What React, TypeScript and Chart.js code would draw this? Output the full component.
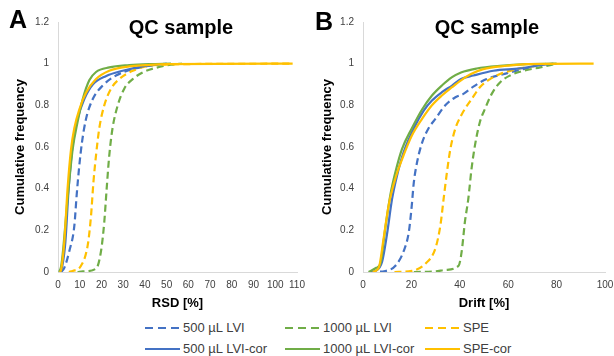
import { useEffect, useRef } from "react";
import { Chart, registerables } from "chart.js";

Chart.register(...registerables);

const FONT = "'Liberation Sans', Arial, Helvetica, sans-serif";
const BLUE = "#4472C4";
const GREEN = "#70AD47";
const GOLD = "#FFC000";

const seriesLabels = ["500 µL LVI", "1000 µL LVI", "SPE", "500 µL LVI-cor", "1000 µL LVI-cor", "SPE-cor"];
const seriesColors = [BLUE, GREEN, GOLD, BLUE, GREEN, GOLD];
const seriesDashed = [true, true, true, false, false, false];

const panelLetters = ["A", "B"];
const panelTitles = ["QC sample", "QC sample"];
const xAxisTitles = ["RSD [%]", "Drift [%]"];
const yAxisTitle = "Cumulative frequency";
const xMax = [110, 100];
const xStep = [10, 20];
const yMax = 1.2;
const yStep = 0.2;

// ---- Panel A: RSD [%] ----
const rsdLvi500X = [1.5, 2.9, 5.2, 7.5, 8.6, 9.8, 11, 12.9, 16, 20.6, 26.7, 34.4, 40.5, 45, 50];
const rsdLvi500Y = [0, 0.02, 0.1, 0.22, 0.37, 0.51, 0.62, 0.735, 0.83, 0.895, 0.943, 0.974, 0.987, 0.995, 1];
const rsdLvi1000X = [9, 11.4, 17.5, 19.8, 21.3, 22.4, 23.6, 25.1, 27.5, 30.5, 34.4, 39, 45, 52, 57];
const rsdLvi1000Y = [0, 0.003, 0.016, 0.1, 0.24, 0.4, 0.56, 0.69, 0.8, 0.88, 0.926, 0.958, 0.98, 0.995, 1];
const rsdSpeX = [5, 6.75, 10.6, 13.7, 15.2, 16.3, 17.5, 19, 21.3, 24.4, 28.2, 34.4, 40.5, 48, 60, 108];
const rsdSpeY = [0, 0.005, 0.03, 0.13, 0.27, 0.43, 0.56, 0.69, 0.8, 0.88, 0.926, 0.966, 0.987, 0.995, 0.998, 1];
const rsdLvi500CorX = [1, 2, 3.4, 4.9, 6.75, 9, 12.1, 16, 22, 29.8, 39, 45, 50];
const rsdLvi500CorY = [0, 0.03, 0.145, 0.4, 0.61, 0.735, 0.83, 0.9, 0.94, 0.966, 0.987, 0.995, 1];
const rsdLvi1000CorX = [0.5, 1.3, 2.1, 4.4, 6.75, 9, 11.4, 14.4, 17.5, 23.6, 32.8, 42, 52];
const rsdLvi1000CorY = [0, 0.02, 0.08, 0.35, 0.59, 0.72, 0.83, 0.92, 0.96, 0.982, 0.993, 0.998, 1];
const rsdSpeCorX = [0.8, 1.4, 2.9, 4.4, 6.0, 7.5, 9.8, 12.9, 17.5, 23.6, 32.8, 40.5, 50, 108];
const rsdSpeCorY = [0, 0.01, 0.145, 0.4, 0.59, 0.69, 0.78, 0.86, 0.926, 0.966, 0.987, 0.993, 0.998, 1];

// ---- Panel B: Drift [%] ----
const driftLvi500X = [2.5, 9.2, 13.4, 16.8, 18.9, 20, 21, 22.4, 24.4, 27.1, 29.9, 34, 38.2, 41.5, 45.6, 51.1, 58, 66.3, 74.5];
const driftLvi500Y = [0, 0.005, 0.03, 0.1, 0.19, 0.3, 0.43, 0.53, 0.62, 0.69, 0.735, 0.8, 0.839, 0.855, 0.89, 0.926, 0.95, 0.974, 1];
const driftLvi1000X = [21, 30, 34, 39.5, 40.8, 42.1, 43.5, 44.9, 46.3, 48.3, 50.4, 53.2, 56.6, 60.7, 66.3, 73.2, 80];
const driftLvi1000Y = [0, 0.003, 0.01, 0.03, 0.1, 0.24, 0.35, 0.5, 0.61, 0.72, 0.783, 0.855, 0.91, 0.943, 0.966, 0.982, 1];
const driftSpeX = [13, 20.2, 25.8, 29.9, 32, 33.3, 34.7, 36.1, 38.2, 40.5, 42.5, 44.9, 48.3, 52.5, 56.6, 63.5, 71.8, 76];
const driftSpeY = [0, 0.005, 0.04, 0.113, 0.225, 0.35, 0.48, 0.59, 0.69, 0.75, 0.79, 0.83, 0.887, 0.926, 0.95, 0.974, 0.99, 1];
const driftLvi500CorX = [3, 5.1, 7.9, 9.9, 12, 14, 16.8, 21, 25.1, 28.5, 32.6, 36.8, 40.5, 45.6, 53.9, 64.9, 73.2, 78.7];
const driftLvi500CorY = [0, 0.005, 0.05, 0.18, 0.35, 0.46, 0.575, 0.69, 0.775, 0.823, 0.863, 0.895, 0.926, 0.943, 0.966, 0.977, 0.993, 1];
const driftLvi1000CorX = [2.3, 5.5, 7.2, 9.2, 11.3, 13.4, 16.1, 20.2, 24.4, 28.5, 32.6, 36.8, 40.5, 47, 56.6, 67.6, 80];
const driftLvi1000CorY = [0, 0.02, 0.04, 0.21, 0.37, 0.48, 0.59, 0.69, 0.78, 0.847, 0.895, 0.935, 0.958, 0.977, 0.99, 0.998, 1];
const driftSpeCorX = [4, 6.5, 8.5, 10.6, 13.4, 16.1, 20.2, 24.4, 28.5, 32.6, 36.8, 40.5, 44.6, 49.7, 59.4, 67.6, 95.3];
const driftSpeCorY = [0, 0.02, 0.16, 0.32, 0.45, 0.54, 0.655, 0.735, 0.8, 0.847, 0.887, 0.92, 0.95, 0.974, 0.99, 0.998, 1];

const panelSeries = [
  [
    [rsdLvi500X, rsdLvi500Y],
    [rsdLvi1000X, rsdLvi1000Y],
    [rsdSpeX, rsdSpeY],
    [rsdLvi500CorX, rsdLvi500CorY],
    [rsdLvi1000CorX, rsdLvi1000CorY],
    [rsdSpeCorX, rsdSpeCorY],
  ],
  [
    [driftLvi500X, driftLvi500Y],
    [driftLvi1000X, driftLvi1000Y],
    [driftSpeX, driftSpeY],
    [driftLvi500CorX, driftLvi500CorY],
    [driftLvi1000CorX, driftLvi1000CorY],
    [driftSpeCorX, driftSpeCorY],
  ],
];

// draw order: solid on top, SPE-cor topmost
const drawOrder = [5, 4, 3, 2, 1, 0];

const layouts = [
  { left: 0, yAxisWidth: 58, padRight: 10, titleX: 181 },
  { left: 307, yAxisWidth: 56, padRight: 9, titleX: 487 },
];
const CANVAS_W = 307;
const CANVAS_H = 311;

function Panel({ idx }: { idx: number }) {
  const ref = useRef<HTMLCanvasElement | null>(null);
  useEffect(() => {
    if (!ref.current) return;
    const lay = layouts[idx];
    const datasets = panelSeries[idx].map(([xs, ys], i) => ({
      label: seriesLabels[i],
      data: xs.map((x, k) => ({ x, y: ys[k] })),
      borderColor: seriesColors[i],
      backgroundColor: seriesColors[i],
      borderWidth: 2.2,
      borderDash: seriesDashed[i] ? [7, 4] : [],
      pointRadius: 0,
      fill: false,
      cubicInterpolationMode: "monotone" as const,
      order: drawOrder[i],
    }));
    const chart = new Chart(ref.current, {
      type: "line",
      data: { datasets },
      options: {
        animation: false,
        responsive: false,
        devicePixelRatio: 1,
        layout: { padding: { top: 22, right: lay.padRight, left: 0, bottom: 0 } },
        plugins: {
          legend: { display: false },
          title: { display: false },
          tooltip: { enabled: false },
        },
        scales: {
          x: {
            type: "linear",
            min: 0,
            max: xMax[idx],
            grid: { display: false, drawTicks: false },
            border: { display: true, color: "#d9d9d9", width: 1 },
            ticks: {
              stepSize: xStep[idx],
              autoSkip: false,
              maxRotation: 0,
              padding: 7,
              color: "#404040",
              font: { family: FONT, size: 10 },
            },
            title: {
              display: true,
              text: xAxisTitles[idx],
              color: "#000",
              font: { family: FONT, size: 13, weight: "bold" },
              padding: { top: 0, bottom: 0 },
            },
            afterFit: (axis: any) => {
              axis.height = 39;
              axis.paddingLeft = 0;
              axis.paddingRight = 0;
            },
          },
          y: {
            type: "linear",
            min: 0,
            max: yMax,
            grid: { display: false, drawTicks: false },
            border: { display: true, color: "#d9d9d9", width: 1 },
            ticks: {
              stepSize: yStep,
              padding: 9,
              color: "#404040",
              font: { family: FONT, size: 10 },
              callback: (v: any) => String(Math.round(Number(v) * 10) / 10),
            },
            title: {
              display: true,
              text: yAxisTitle,
              color: "#000",
              font: { family: FONT, size: 13, weight: "bold" },
              padding: { top: 12.5, bottom: 0 },
            },
            afterFit: (axis: any) => {
              axis.width = lay.yAxisWidth;
            },
          },
        },
      },
    });
    return () => chart.destroy();
  }, [idx]);
  const lay = layouts[idx];
  return (
    <>
      <canvas
        ref={ref}
        width={CANVAS_W}
        height={CANVAS_H}
        style={{ position: "absolute", left: lay.left, top: 0, width: CANVAS_W, height: CANVAS_H }}
      />
      <div
        style={{
          position: "absolute",
          left: idx === 0 ? 9 : 315,
          top: idx === 0 ? 7 : 8.5,
          font: `bold 25px ${FONT}`,
          lineHeight: "25px",
          color: "#000",
        }}
      >
        {panelLetters[idx]}
      </div>
      <div
        style={{
          position: "absolute",
          left: lay.titleX - 100,
          width: 200,
          top: 17,
          textAlign: "center",
          font: `bold 20px ${FONT}`,
          lineHeight: "20px",
          color: "#000",
        }}
      >
        {panelTitles[idx]}
      </div>
    </>
  );
}

const legendCols = [145, 285, 425];
const legendRowsTop = [319.5, 341];

function Legend() {
  return (
    <>
      {seriesLabels.map((label, i) => {
        const col = i % 3;
        const row = Math.floor(i / 3);
        return (
          <div
            key={label}
            style={{
              position: "absolute",
              left: legendCols[col],
              top: legendRowsTop[row],
              height: 16,
              display: "flex",
              alignItems: "center",
              whiteSpace: "nowrap",
              font: `13px ${FONT}`,
              lineHeight: "16px",
              color: "#404040",
            }}
          >
            <svg width={36} height={4} style={{ display: "block", marginRight: 2 }}>
              <line
                x1={0}
                y1={2}
                x2={35}
                y2={2}
                stroke={seriesColors[i]}
                strokeWidth={2}
                strokeDasharray={seriesDashed[i] ? "8 5" : undefined}
              />
            </svg>
            <span>{label}</span>
          </div>
        );
      })}
    </>
  );
}

export default function App() {
  useEffect(() => {
    document.body.style.margin = "0";
  }, []);
  return (
    <div style={{ position: "relative", width: 614, height: 356, background: "#fff", overflow: "hidden" }}>
      <Panel idx={0} />
      <Panel idx={1} />
      <Legend />
    </div>
  );
}
